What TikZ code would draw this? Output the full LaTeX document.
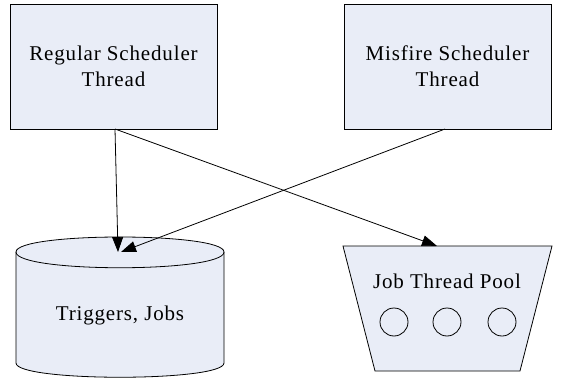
\documentclass[tikz,border=0pt]{standalone}
\usepackage{fontspec}
\setmainfont{Liberation Serif}[LetterSpace=4]
\usetikzlibrary{arrows.meta}
\definecolor{boxfill}{HTML}{E9EDF7}
\begin{document}
\begin{tikzpicture}[x=1pt,y=-1pt,
  shapeline/.style={draw=black,line width=0.8pt,fill=boxfill},
  threadbox/.style={shapeline,minimum width=207pt,minimum height=125pt,inner sep=0pt,align=center,font=\fontsize{21}{26}\selectfont},
  lbl/.style={font=\fontsize{21}{26}\selectfont,inner sep=0pt},
  conn/.style={line width=0.8pt,-{Triangle[length=15pt,width=11pt]}}]
\useasboundingbox (0,0) rectangle (566,383);
\node[threadbox] (reg) at (113.5,66.5) {Regular Scheduler\\Thread};
\node[threadbox] (mis) at (447.5,66.5) {Misfire Scheduler\\Thread};
% cylinder
\path[shapeline] (16,252) .. controls (16,232) and (224,232) .. (224,252)
  -- (224,363) .. controls (224,382) and (16,382) .. (16,363) -- cycle;
\draw[line width=0.8pt] (16,252) .. controls (16,273) and (224,273) .. (224,252);
\node[lbl] (store) at (120,315) {Triggers, Jobs};
% trapezoid
\path[shapeline] (343,246) -- (552,246) -- (520,371) -- (375,371) -- cycle;
\node[lbl] (pool) at (447,281) {Job Thread Pool};
\foreach \i/\x in {1/394,2/447,3/502}
  \node[draw=black,line width=0.8pt,circle,minimum size=28pt,inner sep=0pt] (c\i) at (\x,322) {};
% connector endpoints
\coordinate (regout) at (115,129);
\coordinate (misout) at (445,129);
\coordinate (storeinA) at (118,252);
\coordinate (storeinB) at (121,252);
\coordinate (poolin) at (437,246);
\draw[conn] (regout) -- (storeinA);
\draw[conn] (misout) -- (storeinB);
\draw[conn] (regout) -- (poolin);
\end{tikzpicture}
\end{document}
